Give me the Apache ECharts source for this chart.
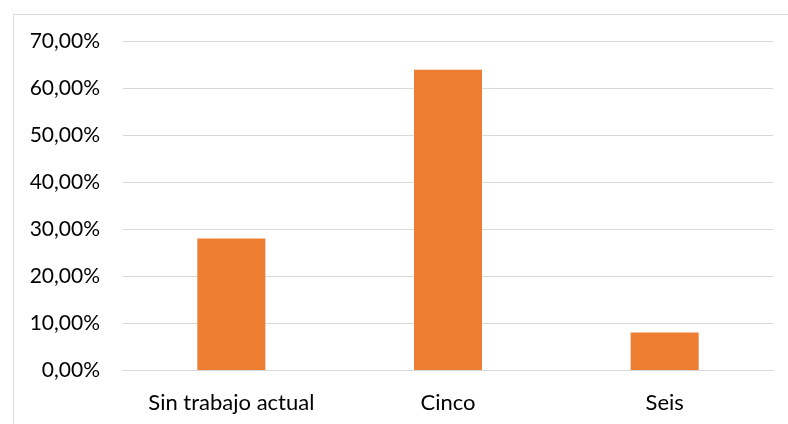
<!DOCTYPE html>
<html><head><meta charset="utf-8">
<script src="https://cdn.jsdelivr.net/npm/echarts@6/dist/echarts.min.js"></script>
<style>html,body{margin:0;padding:0;background:#fff}#c{width:788px;height:424px}</style>
</head><body><div id="c"></div>
<script>
const categories = ["Sin trabajo actual", "Cinco", "Seis"];
const values = [28, 64, 8];
const yTicks = [0, 10, 20, 30, 40, 50, 60, 70];

const chart = echarts.init(document.getElementById('c'));
const font = 'Lato, "Open Sans", sans-serif';
chart.setOption({
  animation: false,
  graphic: [{
    type: 'rect', left: 11, top: 12, silent: true,
    shape: { x: 0, y: 0, width: 800, height: 500 },
    style: { fill: 'none', stroke: '#d9d9d9', lineWidth: 1 }
  }],
  grid: { left: 123, right: 15, top: 41.5, bottom: 54, containLabel: false },
  xAxis: {
    type: 'category', data: categories,
    axisLine: { show: true, lineStyle: { color: '#d9d9d9', width: 1 } },
    axisTick: { show: false },
    axisLabel: { color: '#000', fontSize: 22, fontFamily: font, margin: 22 }
  },
  yAxis: {
    type: 'value', min: yTicks[0], max: yTicks[yTicks.length - 1], interval: 10,
    axisLine: { show: false }, axisTick: { show: false },
    splitLine: { lineStyle: { color: '#d9d9d9', width: 1 } },
    axisLabel: {
      color: '#000', fontSize: 21, fontFamily: font, margin: 23,
      formatter: v => v.toFixed(2).replace('.', ',') + '%'
    }
  },
  series: [{
    type: 'bar', data: values, barWidth: 68,
    itemStyle: { color: '#ed7d31' }
  }]
});
</script></body></html>
